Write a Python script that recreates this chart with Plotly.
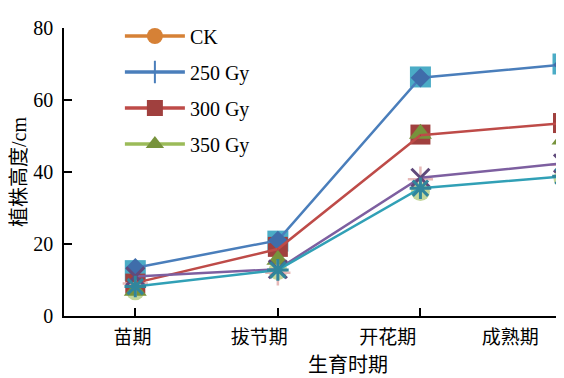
import plotly.graph_objects as go

categories = ["苗期", "拔节期", "开花期", "成熟期"]
xpos = list(range(len(categories)))

# visible line series
line_250 = [13.4, 21.0, 66.2, 69.8]
line_300 = [9.2, 18.6, 50.2, 53.6]
line_400 = [11.0, 13.0, 38.4, 42.4]
line_450 = [8.2, 12.8, 35.5, 38.8]

# overlapping marker-only series
sq_light = [12.6, 20.8, 66.4, 70.0]
sq_red = [9.0, 19.2, 50.4, 53.6]
tri_green = [7.0, 15.6, 50.6, 49.0]
circ_pale = [7.0, 12.6, 34.6, 38.2]
plus_pink = [9.0, 12.0, 38.0, 42.0]

legend_names = ["CK", "250 Gy", "300 Gy", "350 Gy"]
y_ticks = [0, 20, 40, 60, 80]
# category label positions (labels sit left of their ticks in the original)
label_pos = [-0.02, 0.87, 1.77, 2.63]

SERIF = "Liberation Serif, Times New Roman, serif"
FONT = "Liberation Serif, Noto Sans CJK SC, serif"

fig = go.Figure()

def mk(y, symbol, color, size, lw=0, lc=None):
    fig.add_trace(go.Scatter(
        x=xpos, y=y, mode="markers", showlegend=False, cliponaxis=False,
        marker=dict(symbol=symbol, color=color, size=size,
                    line=dict(width=lw, color=lc if lc else color)),
        hoverinfo="skip"))

mk(sq_light, "square", "#4BACC6", 21)
mk(circ_pale, "circle", "#C3D69B", 19)
mk(sq_red, "square", "#A0403E", 20)
mk(tri_green, "triangle-up", "#77933C", 20)
mk(plus_pink, "cross-thin-open", "#E6B9B8", 18, 2.5, "#E6B9B8")

def ln(y, color, symbol, mcolor, size, lw=0):
    fig.add_trace(go.Scatter(
        x=xpos, y=y, mode="lines+markers", showlegend=False, cliponaxis=False,
        line=dict(color=color, width=2.5),
        marker=dict(symbol=symbol, color=mcolor, size=size,
                    line=dict(width=lw, color=mcolor)),
        hoverinfo="skip"))

ln(line_250, "#4A7EBB", "diamond", "#3F6DAA", 15)
ln(line_300, "#BE4B48", "square", "#A0403E", 1)
ln(line_400, "#7D5FA0", "x-thin-open", "#604A7B", 18, 3)
ln(line_450, "#31A0B6", "asterisk-open", "#31859C", 18, 3)

# legend-only entries
leg_styles = [
    dict(line=dict(color="#D68136", width=3.5), marker=dict(symbol="circle", color="#D68136", size=16)),
    dict(line=dict(color="#4A7EBB", width=3.5), marker=dict(symbol="line-ns-open", color="#4A7EBB", size=16, line=dict(width=2, color="#4A7EBB"))),
    dict(line=dict(color="#BE4B48", width=3.5), marker=dict(symbol="square", color="#A0403E", size=16)),
    dict(line=dict(color="#9BBB59", width=3.5), marker=dict(symbol="triangle-up", color="#77933C", size=16)),
]
for i, (nm, st) in enumerate(zip(legend_names, leg_styles)):
    fig.add_trace(go.Scatter(x=[None], y=[None], mode="lines+markers", name=nm,
                             legendgroup=f"g{i}", **st))

# invisible trace on the label axis
fig.add_trace(go.Scatter(x=[None], y=[None], xaxis="x2", showlegend=False, hoverinfo="skip"))

fig.update_layout(
    width=564, height=378,
    margin=dict(l=56, r=9, t=8, b=70),
    paper_bgcolor="white", plot_bgcolor="white",
    font=dict(family=FONT, size=18, color="black"),
    showlegend=True,
    legend=dict(x=0.112, y=1.04, xanchor="left", yanchor="top",
                bgcolor="rgba(0,0,0,0)", font=dict(family=SERIF, size=20),
                traceorder="grouped", tracegroupgap=7, itemwidth=60,
                itemsizing="trace"),
    xaxis=dict(range=[-0.5, 3.0], showline=True, linecolor="black", linewidth=1.5,
               ticks="inside", ticklen=8, tickwidth=1.5, tickcolor="black",
               tickvals=xpos, showticklabels=False, automargin=False,
               showgrid=False, zeroline=False, mirror=False),
    xaxis2=dict(range=[-0.5, 3.0], overlaying="x", side="bottom", anchor="y",
                showline=False, ticks="", tickvals=label_pos, ticktext=categories,
                tickfont=dict(family=FONT, size=19), ticklabelstandoff=8,
                showgrid=False, zeroline=False, automargin=False),
    yaxis=dict(range=[0, 80], tickvals=y_ticks, showline=True,
               linecolor="black", linewidth=1.5, ticks="inside", ticklen=8,
               tickwidth=1.5, tickcolor="black", showgrid=False, zeroline=False,
               tickfont=dict(family=SERIF, size=20), ticklabelstandoff=5,
               automargin=False,
               title=dict(text="植株高度/cm", font=dict(family=FONT, size=20), standoff=3)),
    annotations=[dict(text="生育时期", xref="paper", yref="paper", x=0.569, y=-0.17,
                      xanchor="center", yanchor="middle", showarrow=False,
                      font=dict(family=FONT, size=20))],
)

fig.write_html("out.html")
